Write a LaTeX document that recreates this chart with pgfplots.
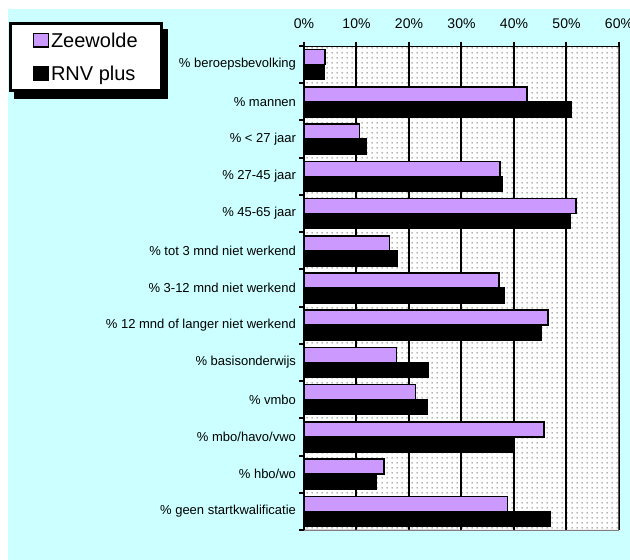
\documentclass[border=0pt]{standalone}
\usepackage{pgfplots}
\pgfplotsset{compat=1.18}
\usepackage{fontspec}
\setmainfont{Liberation Sans}
\usetikzlibrary{patterns}
\pgfdeclarelayer{background}
\pgfsetlayers{background,main}
\definecolor{bgcyan}{RGB}{204,255,255}
\definecolor{zpurple}{RGB}{204,153,255}
\definecolor{framegray}{RGB}{128,128,128}
\pgfdeclarepatternformonly{exceldots}{\pgfqpoint{0pt}{0pt}}{\pgfqpoint{5pt}{5pt}}{\pgfqpoint{5pt}{5pt}}{\pgfpathrectangle{\pgfqpoint{2pt}{2pt}}{\pgfqpoint{1pt}{1pt}}\pgfusepath{fill}}
\begin{document}
\begin{tikzpicture}
\useasboundingbox (0pt,0pt) rectangle (630pt,560pt);
\begin{axis}[
  at={(304pt,30pt)}, anchor=south west,
  scale only axis, width=315pt, height=484pt,
  xbar, bar width=15pt,
  xmin=0, xmax=60, ymin=-0.5, ymax=12.5, y dir=reverse,
  axis line style={draw=none},
  axis background/.style={fill=white, postaction={pattern=exceldots, pattern color=black!70}},
  xtick={0,10,20,30,40,50,60},
  xticklabels={0\%,10\%,20\%,30\%,40\%,50\%,60\%},
  xtick pos=right, xticklabel pos=right,
  xticklabel style={font=\fontsize{14}{16}\selectfont, yshift=9pt},
  ytick={-0.5,0.5,...,12.5}, yticklabels={}, ytick pos=left,
  tick align=outside, major tick length=4.5pt,
  tick style={black, line width=2pt},
  extra y ticks={0,1,2,3,4,5,6,7,8,9,10,11,12},
  extra y tick labels={\% beroepsbevolking,\% mannen,\% < 27 jaar,\% 27-45 jaar,\% 45-65 jaar,\% tot 3 mnd niet werkend,\% 3-12 mnd niet werkend,\% 12 mnd of langer niet werkend,\% basisonderwijs,\% vmbo,\% mbo/havo/vwo,\% hbo/wo,\% geen startkwalificatie},
  extra y tick style={tick style={draw=none}, yticklabel style={font=\fontsize{13}{15}\selectfont}},
  xmajorgrids, major grid style={black, line width=2pt},
  legend style={name=leg, at={(axis description cs:-0.9365,1.049)}, anchor=north west,
    draw=black, line width=3pt, fill=white,
    font=\fontsize{20}{23}\selectfont, inner xsep=22pt, inner ysep=8pt, row sep=15pt,
    nodes={inner xsep=2pt, inner ysep=1pt},
    cells={anchor=base west}},
  legend image code/.code={\draw[#1, line width=1.5pt] (0pt,0.5pt) rectangle (15pt,14pt);},
]
\addplot[fill=zpurple, draw=black, line width=1.5pt, bar shift=7.5pt] coordinates {
(4.0,0) (42.5,1) (10.6,2) (37.3,3) (51.8,4) (16.3,5) (37.1,6) (46.5,7) (17.6,8) (21.2,9) (45.7,10) (15.2,11) (38.8,12)};
\addlegendentry{Zeewolde}
\addplot[fill=black, draw=black, line width=1.5pt, bar shift=-7.5pt] coordinates {
(3.9,0) (50.9,1) (11.8,2) (37.8,3) (50.8,4) (17.7,5) (38.1,6) (45.1,7) (23.6,8) (23.4,9) (40.0,10) (13.8,11) (47.0,12)};
\addlegendentry{RNV plus}
\draw[framegray, line width=3pt] ([xshift=1pt]rel axis cs:1,1) -- ([xshift=1pt,yshift=-1.5pt]rel axis cs:1,0) -- ([yshift=-1pt]rel axis cs:0,0);
\draw[black, line width=2pt] (rel axis cs:0,0) -- (rel axis cs:0,1) -- (rel axis cs:1,1);
\end{axis}
\begin{pgfonlayer}{background}
\fill[bgcyan] (8pt,0pt) rectangle (630pt,551pt);
\fill[black] ([xshift=4.5pt,yshift=-6.5pt]leg.south west) rectangle ([xshift=4.5pt,yshift=-6.5pt]leg.north east);
\end{pgfonlayer}
\end{tikzpicture}
\end{document}
